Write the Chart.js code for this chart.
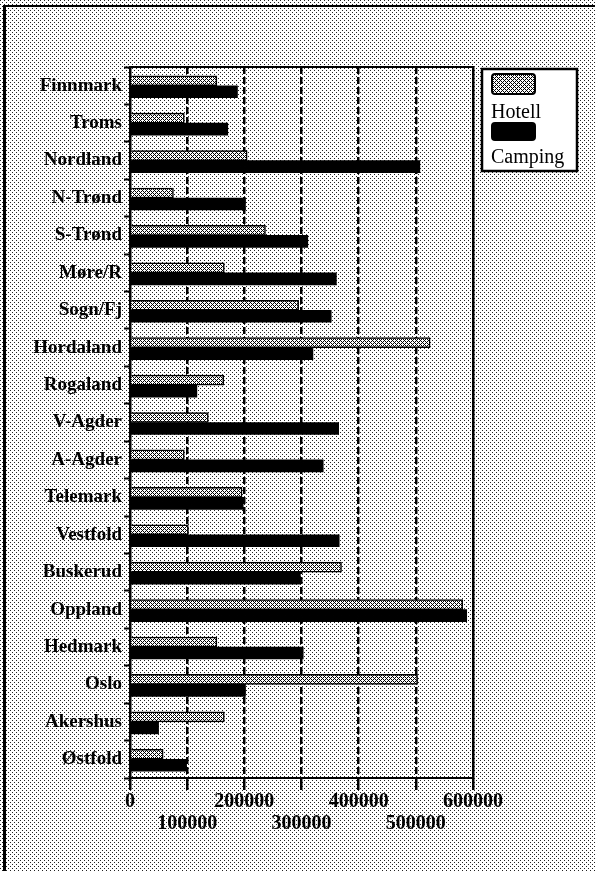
<!DOCTYPE html>
<html>
<head>
<meta charset="utf-8">
<script src="https://cdn.jsdelivr.net/npm/chart.js@4"></script>
<style>
  html, body { margin: 0; padding: 0; background: #fff; }
  #wrap { width: 595px; height: 871px; }
</style>
</head>
<body>
<div id="wrap"><canvas id="chart" width="595" height="871"></canvas></div>
<script>
// Categories, top to bottom
const categories = ['Finnmark', 'Troms', 'Nordland', 'N-Trønd', 'S-Trønd', 'Møre/R', 'Sogn/Fj',
  'Hordaland', 'Rogaland', 'V-Agder', 'A-Agder', 'Telemark', 'Vestfold', 'Buskerud',
  'Oppland', 'Hedmark', 'Oslo', 'Akershus', 'Østfold'];

const hotell = [152000, 95000, 205000, 76000, 237000, 165000, 295000,
  525000, 164000, 137000, 95000, 196000, 102000, 370000,
  582000, 152000, 503000, 165000, 58000];

const camping = [188000, 171000, 507000, 202000, 311000, 361000, 352000,
  320000, 117000, 365000, 338000, 198000, 366000, 298000,
  589000, 303000, 202000, 50000, 99000];

const xMin = 0;
const xMax = 600000;
const xStep = 100000;

const serif = '"Liberation Serif", "DejaVu Serif", serif';

// small tiles used as fills
function makePattern(w, h, draw) {
  const c = document.createElement('canvas');
  c.width = w; c.height = h;
  const g = c.getContext('2d');
  draw(g);
  return g.createPattern(c, 'repeat');
}

const dotPattern = makePattern(4, 4, g => {
  g.fillStyle = '#fff';
  g.fillRect(0, 0, 4, 4);
  g.fillStyle = '#222';
  g.fillRect(0, 0, 1, 1);
  g.fillRect(2, 2, 1, 1);
});

const hatchPattern = makePattern(4, 4, g => {
  g.fillStyle = '#fff';
  g.fillRect(0, 0, 4, 4);
  g.fillStyle = '#000';
  [[0, 0], [1, 1], [2, 2], [3, 3], [1, 3], [3, 1]].forEach(p => g.fillRect(p[0], p[1], 1, 1));
});

const backdrop = {
  id: 'backdrop',
  beforeDraw(chart) {
    const ctx = chart.ctx;
    ctx.save();
    ctx.fillStyle = dotPattern;
    ctx.fillRect(0, 0, chart.width, chart.height);
    // outer frame
    ctx.fillStyle = '#000';
    ctx.fillRect(3, 5, 3, chart.height - 5);
    ctx.fillRect(3, 5, chart.width - 3, 2);
    ctx.restore();
  },
  afterDatasetsDraw(chart) {
    const { ctx, chartArea: a } = chart;
    ctx.save();
    ctx.strokeStyle = '#000';
    ctx.lineWidth = 2;
    ctx.strokeRect(a.left, a.top, a.right - a.left, a.bottom - a.top);
    ctx.restore();
  }
};

const boxLegend = {
  id: 'boxLegend',
  afterDraw(chart) {
    const ctx = chart.ctx;
    const ds = chart.data.datasets;
    ctx.save();
    ctx.fillStyle = '#fff';
    ctx.fillRect(482, 69, 95, 102);
    ctx.strokeStyle = '#000';
    ctx.lineWidth = 2.5;
    ctx.strokeRect(482, 69, 95, 102);

    const swatches = [74, 123];
    const texts = [118, 163];
    ds.forEach((d, i) => {
      ctx.beginPath();
      ctx.roundRect(492, swatches[i], 43, i === 0 ? 20 : 17, 3);
      ctx.fillStyle = d.backgroundColor;
      ctx.fill();
      ctx.lineWidth = 2;
      ctx.strokeStyle = '#000';
      ctx.stroke();
      ctx.fillStyle = '#000';
      ctx.font = '20px ' + serif;
      ctx.textBaseline = 'alphabetic';
      ctx.fillText(d.label, 491, texts[i]);
    });
    ctx.restore();
  }
};

new Chart(document.getElementById('chart'), {
  type: 'bar',
  data: {
    labels: categories,
    datasets: [
      {
        label: 'Hotell',
        data: hotell,
        backgroundColor: hatchPattern,
        borderColor: '#000',
        borderWidth: 1.5,
        barThickness: 10
      },
      {
        label: 'Camping',
        data: camping,
        backgroundColor: '#000',
        borderWidth: 0,
        barThickness: 12
      }
    ]
  },
  options: {
    indexAxis: 'y',
    responsive: false,
    animation: false,
    layout: { padding: { top: 67, right: 122, bottom: 0, left: 0 } },
    plugins: {
      legend: { display: false },
      tooltip: { enabled: false }
    },
    scales: {
      x: {
        min: xMin,
        max: xMax,
        afterFit(scale) { scale.height = 93; },
        ticks: {
          stepSize: xStep,
          autoSkip: false,
          maxRotation: 0,
          minRotation: 0,
          padding: 1,
          color: '#000',
          font: { family: serif, size: 20, weight: 'bold', lineHeight: 1.1 },
          callback(value, index) {
            const s = String(value);
            return index % 2 === 0 ? [s, ''] : ['', s];
          }
        },
        grid: {
          color: '#000',
          lineWidth: 2.5,
          tickLength: 12,
          tickColor: '#000',
          tickWidth: 2.5
        },
        border: {
          color: '#000',
          width: 2,
          dash(ctx) {
            if (!ctx.tick) return [];
            return (ctx.tick.value === xMin || ctx.tick.value === xMax) ? [] : [7, 3];
          }
        }
      },
      y: {
        afterFit(scale) { scale.width = 130; },
        ticks: {
          padding: 2,
          color: '#000',
          font: { family: serif, size: 19, weight: 'bold' }
        },
        grid: {
          drawOnChartArea: false,
          tickLength: 6,
          tickColor: '#000',
          tickWidth: 2
        },
        border: { color: '#000', width: 2 }
      }
    }
  },
  plugins: [backdrop, boxLegend]
});
</script>
</body>
</html>
